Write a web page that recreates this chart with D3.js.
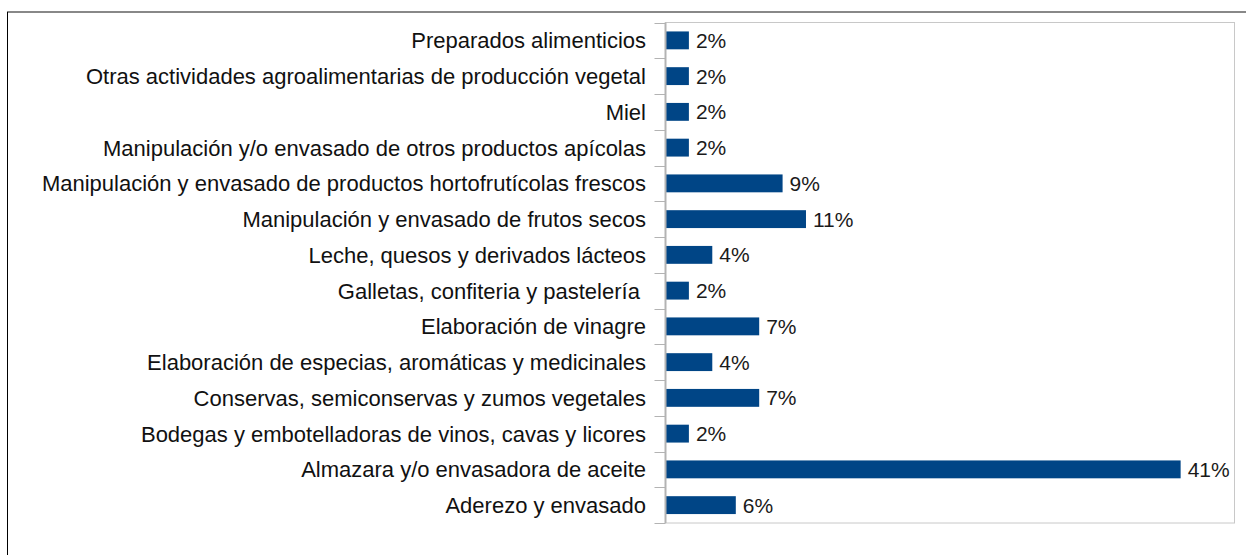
<!DOCTYPE html>
<html>
<head>
<meta charset="utf-8">
<script src="https://cdn.jsdelivr.net/npm/d3@7"></script>
<style>
  html, body { margin: 0; padding: 0; background: #fff; }
  svg { display: block; }
  text { font-family: "Liberation Sans", Arial, sans-serif; }
</style>
</head>
<body>
<svg id="chart" width="1246" height="555"></svg>
<script>
const categories = [
  "Preparados alimenticios",
  "Otras actividades agroalimentarias de producción vegetal",
  "Miel",
  "Manipulación y/o envasado de otros productos apícolas",
  "Manipulación y envasado de productos hortofrutícolas frescos",
  "Manipulación y envasado de frutos secos",
  "Leche, quesos y derivados lácteos",
  "Galletas, confiteria y pastelería ",
  "Elaboración de vinagre",
  "Elaboración de especias, aromáticas y medicinales",
  "Conservas, semiconservas y zumos vegetales",
  "Bodegas y embotelladoras de vinos, cavas y licores",
  "Almazara y/o envasadora de aceite",
  "Aderezo y envasado"
];
const values = [1.85, 1.85, 1.85, 1.85, 9.26, 11.11, 3.70, 1.85, 7.41, 3.70, 7.41, 1.85, 40.74, 5.56];
const xDomain = [0, 45];

(function () {
const svg = d3.select("#chart");
const pLeft = 665.5, pTop = 22.5, pRight = 1234.5, pBottom = 523;

// outer frame (top and left edges)
svg.append("line").attr("x1", 7).attr("x2", 1246).attr("y1", 12).attr("y2", 12)
  .attr("stroke", "#888").attr("stroke-width", 2);
svg.append("line").attr("x1", 7.5).attr("x2", 7.5).attr("y1", 12).attr("y2", 555)
  .attr("stroke", "#000").attr("stroke-width", 1);

const x = d3.scaleLinear().domain(xDomain).range([pLeft, pRight]);
const y = d3.scaleBand().domain(categories).range([pTop, pBottom])
  .paddingInner(0.5).paddingOuter(0.25);

// plot area border
svg.append("rect").attr("x", pLeft).attr("y", pTop)
  .attr("width", pRight - pLeft).attr("height", pBottom - pTop)
  .attr("fill", "none").attr("stroke", "#c8c8c8").attr("stroke-width", 1);

// bars
svg.selectAll("rect.bar").data(categories).enter().append("rect")
  .attr("class", "bar")
  .attr("x", x(0))
  .attr("y", d => y(d))
  .attr("width", (d, i) => x(values[i]) - x(0))
  .attr("height", y.bandwidth())
  .attr("fill", "#004586");

// category axis line and ticks between categories
const step = y.step();
const bounds = categories.map(c => y(c) - step * y.paddingInner() / 2);
bounds.push(pBottom);
svg.append("line").attr("x1", pLeft).attr("x2", pLeft).attr("y1", pTop).attr("y2", pBottom)
  .attr("stroke", "#b3b3b3").attr("stroke-width", 2);
svg.selectAll("line.tick").data(bounds).enter().append("line")
  .attr("class", "tick")
  .attr("x1", pLeft - 11).attr("x2", pLeft)
  .attr("y1", d => Math.round(d) + 0.5).attr("y2", d => Math.round(d) + 0.5)
  .attr("stroke", "#b3b3b3").attr("stroke-width", 1);

// category labels
svg.selectAll("text.cat").data(categories).enter().append("text")
  .attr("class", "cat")
  .attr("x", 646)
  .attr("y", d => y(d) + y.bandwidth() / 2)
  .attr("dy", "0.36em")
  .attr("text-anchor", "end")
  .attr("font-size", 22)
  .attr("fill", "#111")
  .style("white-space", "pre")
  .text(d => d);

// value labels
svg.selectAll("text.val").data(categories).enter().append("text")
  .attr("class", "val")
  .attr("x", (d, i) => x(values[i]) + 7)
  .attr("y", d => y(d) + y.bandwidth() / 2)
  .attr("dy", "0.36em")
  .attr("font-size", 21)
  .attr("fill", "#1a1a1a")
  .text((d, i) => Math.round(values[i]) + "%");
})();
</script>
</body>
</html>
